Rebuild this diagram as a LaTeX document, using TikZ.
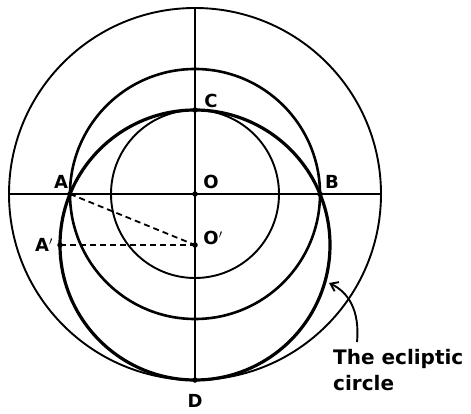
\documentclass[tikz,border=0pt]{standalone}
\usepackage{fontspec}
\setmainfont{DejaVu Sans}
\usetikzlibrary{arrows.meta}
\begin{document}
\begin{tikzpicture}[x=1pt,y=-1pt,
  thinline/.style={line width=1.9pt},
  midline/.style={line width=2.6pt},
  thickline/.style={line width=3.2pt},
  dashline/.style={line width=1.8pt,dash pattern=on 6pt off 4pt},
  dot/.style={circle,fill=black,inner sep=0pt,minimum size=5.5pt},
  lab/.style={font=\fontsize{18}{20}\selectfont\bfseries,inner sep=0pt}]
\useasboundingbox (0,0) rectangle (471,414);
\coordinate (O) at (195,194);
\coordinate (Op) at (195,245);
\coordinate (A) at (70,194);
\coordinate (B) at (320,194);
\coordinate (Ap) at (60,245);
\coordinate (C) at (195,110);
\coordinate (D) at (195,380);
\coordinate (T) at (195,8);
\coordinate (L) at (9,194);
\coordinate (R) at (381,194);
% circles
\draw[thinline] (O) circle[radius=186pt];
\draw[midline] (O) circle[radius=125pt];
\draw[thinline] (O) circle[radius=84pt];
\draw[thickline] (Op) circle[radius=135pt];
% axes
\draw[thinline] (L) -- (R);
\draw[thinline] (T) -- (D);
% dashed
\draw[dashline] (A) -- (Op);
\draw[dashline] (Ap) -- (Op);
% dots
\foreach \p in {O,Op,Ap,C,D,A,B} \node[dot] at (\p) {};
% labels
\node[lab] (lA) at (61,182) {A};
\node[lab] (lB) at (332,182) {B};
\node[lab] (lO) at (211,182) {O};
\node[lab] (lOp) at (213,238) {O$'$};
\node[lab] (lAp) at (44,245) {A$'$};
\node[lab] (lC) at (211,101) {C};
\node[lab] (lD) at (195,401) {D};
\node[lab,anchor=north west,align=left,font=\fontsize{20}{26}\selectfont\bfseries] (txt) at (333,349) {The ecliptic\\circle};
\coordinate (tip) at (329,283);
\coordinate (tail) at (357,342);
\draw[line width=1.9pt,-{Straight Barb[length=7pt,width=10pt]}] (tail) .. controls (360,310) and (348,292) .. (tip);
\end{tikzpicture}
\end{document}
